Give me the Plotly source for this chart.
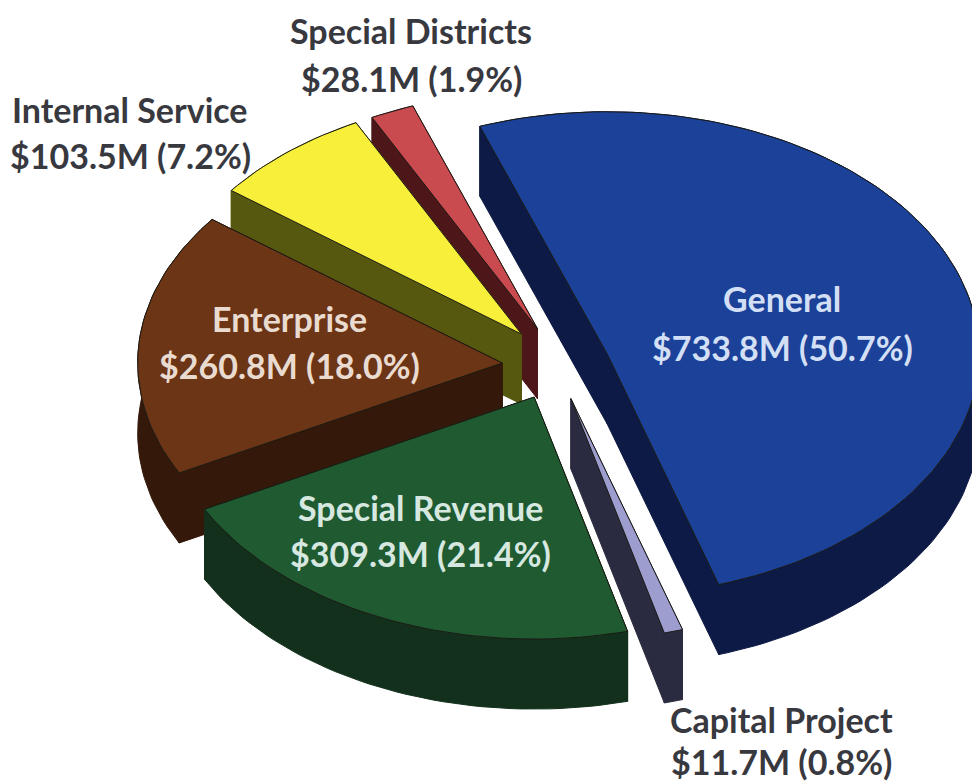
import math
import plotly.graph_objects as go

# --- data ---
categories = ["General", "Capital Project", "Special Revenue", "Enterprise", "Internal Service", "Special Districts"]
values_musd = [733.8, 11.7, 309.3, 260.8, 103.5, 28.1]
percents = [50.7, 0.8, 21.4, 18.0, 7.2, 1.9]

# --- style ---
top_colors = ["#1b4298", "#9d9dd0", "#1f5a31", "#6b3516", "#f7ef3a", "#c94b50"]
side_colors = ["#0d1a45", "#2a2b40", "#12301c", "#341809", "#56580f", "#4d1619"]
label_colors = ["#d3dff5", "#38383f", "#d6e8e0", "#eadbd0", "#38383f", "#38383f"]
# label centres (paper pixels): name line, value line
label_pos = [
    (782, 298, 782, 347),
    (781, 719, 781, 761),
    (420, 507, 420, 553),
    (289, 318, 289, 365),
    (130, 109, 130, 155),
    (411, 30, 411, 78),
]
draw_order = [0, 5, 4, 3, 2, 1]
radius_scale = [1, 1, 1, 0.98, 0.98, 0.98]
nudge = [(0, 0), (0, 0), (0, 0), (0, 1), (0, -4), (3, -4)]

CX, CY = 556, 365
RX, RY = 372, 242
PULL = 0.145
DEPTH = 70
START_DEG = 340

total = sum(values_musd)


def pt(deg, radius=1.0):
    a = math.radians(deg)
    return RX * radius * math.sin(a), -RY * radius * math.cos(a)


wedges = []
angle = START_DEG
for v in values_musd:
    span = v / total * 360
    wedges.append((angle, angle + span))
    angle += span

fig = go.Figure()


def poly(xs, ys, fill, line, name, text, width=1.0):
    fig.add_trace(go.Scatter(
        x=xs, y=ys, mode="lines", fill="toself", fillcolor=fill,
        line=dict(color=line, width=width), name=name, text=text,
        hoverinfo="text", showlegend=False))


for i in draw_order:
    a0, a1 = wedges[i]
    mid = (a0 + a1) / 2
    dx, dy = pt(mid, PULL)
    ax, ay = CX + dx + nudge[i][0], CY + dy + nudge[i][1]
    n = max(6, int((a1 - a0) / 1.5))
    arc = [a0 + (a1 - a0) * k / n for k in range(n + 1)]
    ox = [ax + pt(d, radius_scale[i])[0] for d in arc]
    oy = [ay + pt(d, radius_scale[i])[1] for d in arc]
    name = categories[i]
    text = f"{name}: ${values_musd[i]}M ({percents[i]}%)"
    dark = side_colors[i]
    # cut faces
    poly([ax, ox[0], ox[0], ax, ax], [ay, oy[0], oy[0] + DEPTH, ay + DEPTH, ay], dark, dark, name, text)
    poly([ax, ox[-1], ox[-1], ax, ax], [ay, oy[-1], oy[-1] + DEPTH, ay + DEPTH, ay], dark, dark, name, text)
    # rim
    poly(ox + ox[::-1] + [ox[0]], oy + [y + DEPTH for y in oy[::-1]] + [oy[0]], dark, dark, name, text)
    # top face
    poly([ax] + ox + [ax], [ay] + oy + [ay], top_colors[i], "#1a1a14", name, text)

annotations = []
for i, name in enumerate(categories):
    x1, y1, x2, y2 = label_pos[i]
    for x, y, t in ((x1, y1, name), (x2, y2, f"${values_musd[i]}M ({percents[i]:.1f}%)")):
        annotations.append(dict(x=x, y=y, xref="x", yref="y", text=t, showarrow=False,
                                xanchor="center", yanchor="middle",
                                font=dict(family="Lato", size=34, color=label_colors[i], weight="bold")))

fig.update_layout(
    width=972, height=784, margin=dict(l=0, r=0, t=0, b=0),
    paper_bgcolor="#ffffff", plot_bgcolor="#ffffff", showlegend=False,
    xaxis=dict(range=[0, 972], visible=False, fixedrange=True),
    yaxis=dict(range=[784, 0], visible=False, fixedrange=True),
    annotations=annotations,
)
fig.write_html("out.html", config={"displayModeBar": False},
               post_script="document.body.style.margin='0';")
